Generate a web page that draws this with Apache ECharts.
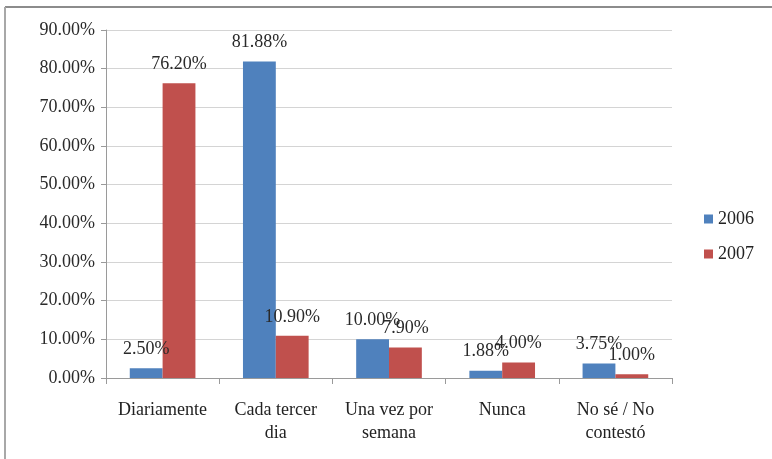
<!DOCTYPE html>
<html><head><meta charset="utf-8">
<script src="https://cdn.jsdelivr.net/npm/echarts@6/dist/echarts.min.js"></script>
<style>html,body{margin:0;padding:0;background:#fff}#c{width:772px;height:459px}</style>
</head><body><div id="c"></div>
<script>
const categories = ['Diariamente', 'Cada tercer\ndia', 'Una vez por\nsemana', 'Nunca', 'No sé / No\ncontestó'];
const series2006 = [2.50, 81.88, 10.00, 1.88, 3.75];
const series2007 = [76.20, 10.90, 7.90, 4.00, 1.00];
const yTicks = [0, 10, 20, 30, 40, 50, 60, 70, 80, 90];

const font = 'Liberation Serif, Times New Roman, serif';
const chart = echarts.init(document.getElementById('c'));
const lbl = {
  show: true, position: 'top', distance: 10, color: '#2a2a2a', fontFamily: font, fontSize: 18,
  formatter: p => p.value.toFixed(2) + '%'
};
chart.setOption({
  animation: false,
  graphic: [
    {type: 'line', shape: {x1: 5, y1: 7, x2: 772, y2: 7}, style: {stroke: '#8c8c8c', lineWidth: 2}},
    {type: 'line', shape: {x1: 5, y1: 7, x2: 5, y2: 459}, style: {stroke: '#a8a8a8', lineWidth: 2}}
  ],
  grid: {left: 106, right: 100, top: 30, bottom: 81},
  legend: {
    orient: 'vertical', left: 699, top: 205, itemWidth: 9, itemHeight: 9, itemGap: 17,
    icon: 'rect', textStyle: {fontFamily: font, fontSize: 18, color: '#222'},
    data: ['2006', '2007']
  },
  xAxis: {
    type: 'category', data: categories,
    axisLine: {lineStyle: {color: '#9a9a9a'}},
    axisTick: {show: true, length: 6, lineStyle: {color: '#9a9a9a'}},
    axisLabel: {fontFamily: font, fontSize: 18, color: '#222', margin: 21, lineHeight: 23, interval: 0}
  },
  yAxis: {
    type: 'value', min: yTicks[0], max: yTicks[yTicks.length - 1], interval: 10,
    axisLine: {show: true, lineStyle: {color: '#9a9a9a'}},
    axisTick: {show: true, length: 5, lineStyle: {color: '#9a9a9a'}},
    splitLine: {lineStyle: {color: '#d4d4d4'}},
    axisLabel: {fontFamily: font, fontSize: 18, color: '#2a2a2a', margin: 11, formatter: v => v.toFixed(2) + '%'}
  },
  series: [
    {name: '2006', type: 'bar', data: series2006, barGap: '0%', barCategoryGap: '42%',
     itemStyle: {color: '#4F81BD'}, label: lbl},
    {name: '2007', type: 'bar', data: series2007, barGap: '0%', barCategoryGap: '42%',
     itemStyle: {color: '#C0504D'}, label: lbl}
  ]
});
</script></body></html>
